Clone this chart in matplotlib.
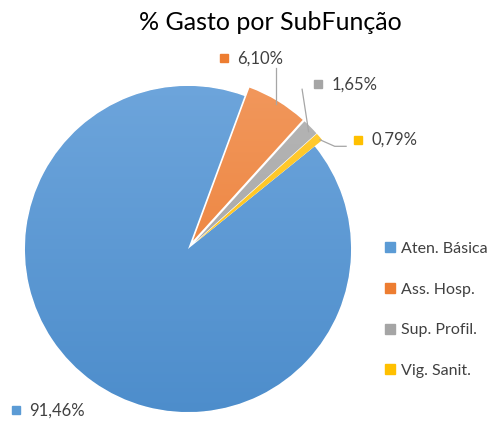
import matplotlib
matplotlib.use("Agg")
import numpy as np
import matplotlib.pyplot as plt
from matplotlib.lines import Line2D
from matplotlib.colors import to_rgb

# data
categories = ["Aten. Básica", "Ass. Hosp.", "Sup. Profil.", "Vig. Sanit."]
values = [91.46, 6.10, 1.65, 0.79]
value_labels = ["91,46%", "6,10%", "1,65%", "0,79%"]
colors = ["#5B9BD5", "#ED7D31", "#A5A5A5", "#FFC000"]
# light (top) / dark (bottom) shades for the Excel-like gradient
tops = ["#70A7DD", "#F29A60", "#B8B8B8", "#FFCC3C"]
bottoms = ["#4A8BCA", "#EA7629", "#9E9E9E", "#FFBF00"]
explode = [0.0, 0.06, 0.06, 0.06]

# label placement (data coords, pie radius = 1)
label_pos = [(-1.055, -0.99), (0.22, 1.17), (0.80, 1.01), (1.045, 0.67)]
leaders = [
    None,
    [(0.54, 1.11), (0.54, 0.89)],
    [(0.70, 0.98), (0.74, 0.72)],
    [(0.81, 0.67), (0.90, 0.63), (0.97, 0.63)],
]

plt.rcParams["font.family"] = ["Lato", "DejaVu Sans"]
text_col = "#404040"

fig = plt.figure(figsize=(4.87, 4.21), dpi=100)
fig.patch.set_facecolor("white")

W, H = 487, 421
cx, cy, r = 188, 249, 163
ax = fig.add_axes([(cx - r) / W, 1 - (cy + r) / H, 2 * r / W, 2 * r / H])

wedges, _ = ax.pie(values, colors=colors, explode=explode, startangle=39,
                   counterclock=False, radius=1,
                   wedgeprops=dict(linewidth=0.5, edgecolor="white"))

# vertical gradient fill clipped to each wedge
for w, t, b in zip(wedges, tops, bottoms):
    t, b = np.array(to_rgb(t)), np.array(to_rgb(b))
    f = np.linspace(0, 1, 200)[:, None]
    grad = (t * (1 - f) + b * f)[:, None, :]
    im = ax.imshow(grad, extent=[-1.2, 1.2, -1.2, 1.2], aspect="auto",
                   interpolation="bilinear", zorder=w.get_zorder() + 0.1)
    im.set_clip_path(w)

ax.set_xlim(-1, 1)
ax.set_ylim(-1, 1)
ax.set_aspect("auto")
ax.axis("off")

for i, (lx, ly) in enumerate(label_pos):
    ax.plot([lx], [ly], marker="s", markersize=5.5, color=colors[i],
            clip_on=False, linestyle="none")
    ax.text(lx + 0.08, ly, value_labels[i], fontsize=12, color=text_col,
            va="center", ha="left", clip_on=False)
    if leaders[i] is not None:
        xs = [p[0] for p in leaders[i]]
        ys = [p[1] for p in leaders[i]]
        ax.plot(xs, ys, color="#A6A6A6", linewidth=0.9, clip_on=False)

fig.text(0.555, 0.947, "% Gasto por SubFunção", fontsize=18, color="#000000",
         ha="center", va="center")

handles = [Line2D([0], [0], marker="s", color="none", markerfacecolor=c,
                  markeredgecolor=c, markersize=6.5) for c in colors]
leg = fig.legend(handles, categories, loc="upper left",
                 bbox_to_anchor=(0.775, 0.445), frameon=False, fontsize=11.5,
                 labelspacing=1.66, handlelength=0.6, handletextpad=0.35,
                 borderpad=0)
for t in leg.get_texts():
    t.set_color(text_col)

fig.savefig("out.png", dpi=100)
